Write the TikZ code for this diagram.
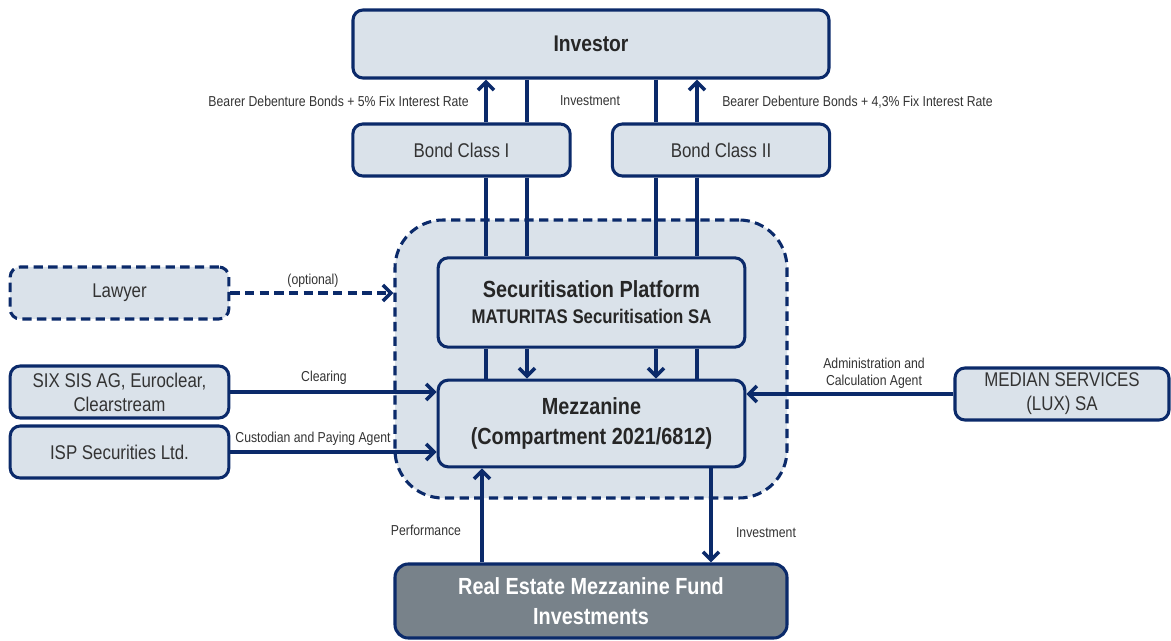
\documentclass[tikz,border=0pt]{standalone}
\usepackage{fontspec}
\setmainfont{Liberation Sans}[FakeStretch=0.85]
\usetikzlibrary{arrows.meta}
\definecolor{navy}{HTML}{0B2A6A}
\definecolor{boxfill}{HTML}{DAE2EA}
\definecolor{darkfill}{HTML}{78828A}
\definecolor{txt}{HTML}{333333}
\begin{document}
\begin{tikzpicture}[x=0.75pt,y=-0.75pt,
  box/.style={draw=navy, line width=2.3pt, fill=boxfill, rounded corners=7.5pt, text=txt, align=center, inner sep=0pt},
  regtext/.style={font=\fontsize{14.9}{18}\selectfont},
  lbl/.style={font=\fontsize{10.8}{12.5}\selectfont, text=txt, inner sep=0pt, align=center},
  conn/.style={draw=navy, line width=2.7pt},
  arr/.style={conn, -{Straight Barb[length=6pt,width=12pt]}},
  dsh/.style={dash pattern=on 7pt off 4pt}]
\useasboundingbox (0,0) rectangle (1171,641);
% container
\node[draw=navy, dsh, line width=2.3pt, fill=boxfill, rounded corners=36pt,
      minimum width=294pt, minimum height=208.5pt, inner sep=0pt] (cont) at (591,359) {};
% boxes
\node[box, minimum width=357pt, minimum height=51pt, font=\bfseries\fontsize{17}{20}\selectfont, text=black!85] (inv) at (591,44) {Investor};
\node[box, regtext, minimum width=163pt, minimum height=39pt] (b1) at (461.5,150) {Bond Class I};
\node[box, regtext, minimum width=163pt, minimum height=39pt] (b2) at (721,150) {Bond Class II};
\node[box, minimum width=230pt, minimum height=67pt, font=\bfseries\fontsize{17.5}{19.5}\selectfont, text=black!85] (sp) at (591.5,302.5)
  {Securitisation Platform\\{\fontsize{14.8}{17}\selectfont MATURITAS Securitisation SA}};
\node[box, minimum width=230pt, minimum height=65pt, font=\bfseries\fontsize{17.5}{22}\selectfont, text=black!85] (mz) at (591.5,423.5)
  {Mezzanine\\(Compartment 2021/6812)};
\node[box, fill=darkfill, text=white, rounded corners=10pt, minimum width=294pt, minimum height=55.5pt,
      font=\bfseries\fontsize{17.5}{22.5}\selectfont] (re) at (591,601) {Real Estate Mezzanine Fund\\Investments};
\node[box, dsh, regtext, minimum width=164pt, minimum height=39pt] (law) at (119.5,293) {Lawyer};
\node[box, regtext, minimum width=164pt, minimum height=39pt] (six) at (119.5,392) {SIX SIS AG, Euroclear,\\Clearstream};
\node[box, regtext, minimum width=164pt, minimum height=39pt] (isp) at (119.5,452) {ISP Securities Ltd.};
\node[box, regtext, minimum width=160.5pt, minimum height=39pt] (med) at (1062,394) {MEDIAN SERVICES\\(LUX) SA};
% x positions
\coordinate (xa) at (486,0);
\coordinate (xb) at (527,0);
\coordinate (xc) at (656,0);
\coordinate (xd) at (697,0);
\coordinate (xp) at (482,0);
\coordinate (xq) at (711,0);
% connectors
\draw[arr] (b1.north -| xa) -- (inv.south -| xa);
\draw[conn] (inv.south -| xb) -- (b1.north -| xb);
\draw[conn] (inv.south -| xc) -- (b2.north -| xc);
\draw[arr] (b2.north -| xd) -- (inv.south -| xd);
\draw[conn] (b1.south -| xa) -- (sp.north -| xa);
\draw[conn] (b1.south -| xb) -- (sp.north -| xb);
\draw[conn] (b2.south -| xc) -- (sp.north -| xc);
\draw[conn] (b2.south -| xd) -- (sp.north -| xd);
\draw[conn] (sp.south -| xa) -- (mz.north -| xa);
\draw[arr] (sp.south -| xb) -- (mz.north -| xb);
\draw[arr] (sp.south -| xc) -- (mz.north -| xc);
\draw[conn] (sp.south -| xd) -- (mz.north -| xd);
\draw[arr] (re.north -| xp) -- (mz.south -| xp);
\draw[arr] (mz.south -| xq) -- (re.north -| xq);
\draw[arr, dsh] (law.east) -- (law.east -| cont.west);
\draw[arr] (six.east) -- (six.east -| mz.west);
\draw[arr] (isp.east) -- (isp.east -| mz.west);
\draw[arr] (med.west) -- (med.west -| mz.east);
% labels
\node[lbl, anchor=east] (l1) at (469,101) {Bearer Debenture Bonds + 5\% Fix Interest Rate};
\node[lbl] (l2) at (590,101) {Investment};
\node[lbl, anchor=west] (l3) at (722,102) {Bearer Debenture Bonds + 4,3\% Fix Interest Rate};
\node[lbl] (l4) at (313,281) {(optional)};
\node[lbl] (l5) at (324,378) {Clearing};
\node[lbl] (l6) at (313,439) {Custodian and Paying Agent};
\node[lbl] (l7) at (874,373) {Administration and\\Calculation Agent};
\node[lbl] (l8) at (426,530) {Performance};
\node[lbl] (l9) at (766,533) {Investment};
\end{tikzpicture}
\end{document}
